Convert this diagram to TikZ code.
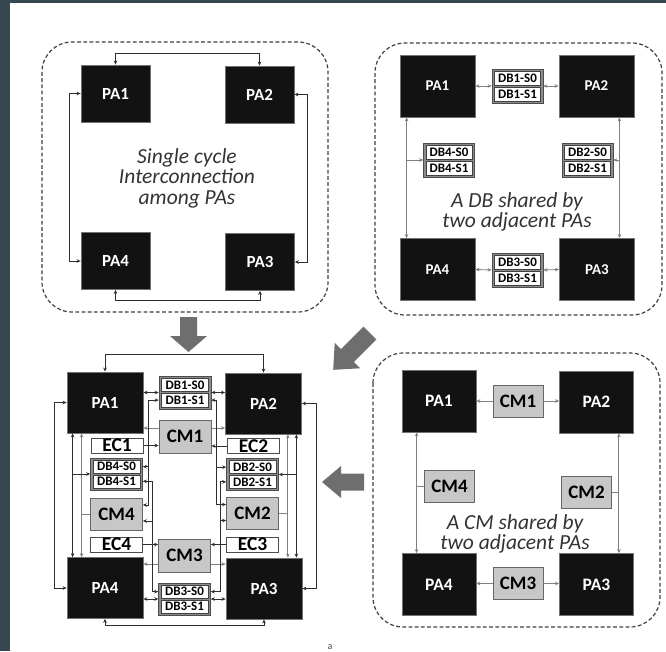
\documentclass[tikz,border=0pt]{standalone}
\usepackage{fontspec}
\setmainfont{Carlito}
\usetikzlibrary{calc,arrows.meta}
\definecolor{frame}{HTML}{37474F}
\definecolor{bigarrow}{HTML}{6E6E6E}
\newcommand{\fsz}[1]{\fontsize{#1}{#1}\selectfont}
\newcommand{\dbnode}[6]{%
  \node[dbouter,minimum width=#4pt,minimum height=#5pt] (#1) at (#2,#3) {};
  \node[dbrow,minimum width=#4pt-5pt,minimum height=#5pt/2-3pt,anchor=south] (#1a) at ($(#1.center)+(0,-0.6)$) {DB#6-S0};
  \node[dbrow,minimum width=#4pt-5pt,minimum height=#5pt/2-3pt,anchor=north] (#1b) at ($(#1.center)+(0,0.6)$) {DB#6-S1};
}
\begin{document}
\begin{tikzpicture}[x=1pt,y=-1pt,
  >={Stealth[length=4pt,width=3.6pt]},
  pabox/.style={fill=black!93,draw=black!55,line width=0.8pt,text=white,font=\bfseries\fsz{17},inner sep=0pt},
  cmbox/.style={fill=black!22,draw=black!60,line width=0.8pt,font=\bfseries\fsz{19},inner sep=0pt},
  ecbox/.style={fill=white,draw=black!70,line width=0.8pt,font=\bfseries\fsz{19.5},inner sep=0pt,minimum width=52pt,minimum height=15pt},
  dbouter/.style={fill=black!45,draw=black!70,line width=0.6pt,inner sep=0pt},
  dbrow/.style={fill=white,draw=black!75,line width=0.5pt,font=\bfseries\fsz{13},inner sep=0pt},
  border/.style={draw=black!75,line width=1.2pt,dash pattern=on 3.8pt off 2.4pt,rounded corners=30pt},
  wdark/.style={draw=black!82,line width=0.85pt},
  wgray/.style={draw=black!50,line width=0.85pt},
  itext/.style={font=\itshape\fontsize{21.5}{20.5}\selectfont,align=center,text=black!80}
]
% background and frame
\fill[white] (0,0) rectangle (666,651);
\fill[frame] (0,0) rectangle (666,3);
\fill[frame] (0,0) rectangle (10,651);
\useasboundingbox (0,0) rectangle (666,651);

% ---------------- Panel 1 (top-left) ----------------
\draw[border] (42,42) rectangle (328,312);
\node[pabox,minimum width=69pt,minimum height=57pt] (aPA1) at (115.5,93.5) {PA1};
\node[pabox,minimum width=69pt,minimum height=57pt] (aPA2) at (259.5,94.5) {PA2};
\node[pabox,minimum width=69pt,minimum height=57pt] (aPA4) at (115.5,261) {PA4};
\node[pabox,minimum width=69pt,minimum height=57pt] (aPA3) at (260,262) {PA3};
\draw[wdark,<->] (aPA1.north) -- ++(0,-11) -| (aPA2.north);
\draw[wdark,<->] (aPA1.west) -- ++(-11,0) |- (aPA4.west);
\draw[wdark,<->] (aPA2.east) -- ++(13,0) |- (aPA3.east);
\draw[wdark,<->] (aPA4.south) -- ++(0,11) -| (aPA3.south);
\node[itext] (aT) at (187,178) {Single cycle\\Interconnection\\among PAs};

% ---------------- Panel 2 (top-right) ----------------
\draw[border] (375,43) rectangle (662,315);
\node[pabox,font=\bfseries\fsz{15},minimum width=75pt,minimum height=62pt] (bPA1) at (437.5,86) {PA1};
\node[pabox,font=\bfseries\fsz{15},minimum width=75pt,minimum height=62pt] (bPA2) at (596.5,86) {PA2};
\node[pabox,font=\bfseries\fsz{15},minimum width=75pt,minimum height=62pt] (bPA4) at (437.5,269.5) {PA4};
\node[pabox,font=\bfseries\fsz{15},minimum width=75pt,minimum height=62pt] (bPA3) at (597,269.5) {PA3};
\dbnode{bDB1}{517.5}{86}{51}{34}{1}
\dbnode{bDB4}{449}{160}{51}{34}{4}
\dbnode{bDB2}{587.5}{160}{51}{34}{2}
\dbnode{bDB3}{517.5}{270}{51}{34}{3}
\draw[wgray,<->] (bPA1.east) -- (bDB1.west);
\draw[wgray,<->] (bDB1.east) -- (bPA2.west);
\draw[wgray,<->] (bPA4.east) -- (bDB3.west);
\draw[wgray,<->] (bDB3.east) -- (bPA3.west);
\coordinate (bL1) at ($(bPA1.south west)+(7,0)$);
\coordinate (bL2) at ($(bPA4.north west)+(7,0)$);
\draw[wgray,<->] (bL1) -- (bL2);
\draw[wgray,->] (bL1 |- bDB4.west) -- (bDB4.west);
\coordinate (bR1) at ($(bPA2.south east)+(-15,0)$);
\coordinate (bR2) at (bR1 |- bPA3.north);
\draw[wgray,<->] (bR1) -- (bR2);
\draw[wgray,->] (bR1 |- bDB2.east) -- (bDB2.east);
\node[itext] (bT) at (517,212) {A DB shared by\\two adjacent PAs};

% ---------------- Panel 3 (bottom-right) ----------------
\draw[border] (373,353) rectangle (660,627);
\node[pabox,font=\bfseries\fsz{17.5},minimum width=74pt,minimum height=62pt] (cPA1) at (439,401) {PA1};
\node[pabox,font=\bfseries\fsz{17.5},minimum width=74pt,minimum height=62pt] (cPA2) at (596.5,402) {PA2};
\node[pabox,font=\bfseries\fsz{17.5},minimum width=74pt,minimum height=62pt] (cPA4) at (439,584.5) {PA4};
\node[pabox,font=\bfseries\fsz{17.5},minimum width=74pt,minimum height=62pt] (cPA3) at (596.5,584.5) {PA3};
\node[cmbox,minimum width=50pt,minimum height=32pt] (cCM1) at (518,401) {CM1};
\node[cmbox,minimum width=50pt,minimum height=32pt] (cCM4) at (449.5,486) {CM4};
\node[cmbox,minimum width=50pt,minimum height=32pt] (cCM2) at (586.5,492.5) {CM2};
\node[cmbox,minimum width=50pt,minimum height=32pt] (cCM3) at (518,583.5) {CM3};
\draw[wgray,->] (cCM1.west) -- (cCM1.west -| cPA1.east);
\draw[wgray,->] (cCM1.east) -- (cCM1.east -| cPA2.west);
\draw[wgray,->] (cCM3.west) -- (cCM3.west -| cPA4.east);
\draw[wgray,->] (cCM3.east) -- (cCM3.east -| cPA3.west);
\coordinate (cL1) at ($(cPA1.south west)+(15,0)$);
\coordinate (cL2) at (cL1 |- cPA4.north);
\draw[wgray,<->] (cL1) -- (cL2);
\draw[wgray] (cL1 |- cCM4.west) -- (cCM4.west);
\coordinate (cR1) at ($(cPA2.south east)+(-15,0)$);
\coordinate (cR2) at (cR1 |- cPA3.north);
\draw[wgray,<->] (cR1) -- (cR2);
\draw[wgray] (cR1 |- cCM2.east) -- (cCM2.east);
\node[itext] (cT) at (515,534) {A CM shared by\\two adjacent PAs};

% ---------------- Panel 4 (bottom-left) ----------------
\node[pabox,minimum width=76pt,minimum height=61pt] (dPA1) at (105,402.5) {PA1};
\node[pabox,minimum width=76pt,minimum height=61pt] (dPA2) at (263.5,403.5) {PA2};
\node[pabox,minimum width=76pt,minimum height=61pt] (dPA4) at (105,588) {PA4};
\node[pabox,minimum width=76pt,minimum height=61pt] (dPA3) at (264,588.5) {PA3};
\dbnode{dDB1}{185}{392.5}{52}{33}{1}
\node[cmbox,minimum width=52pt,minimum height=33pt] (dCM1) at (185,436.5) {CM1};
\node[ecbox] (dEC1) at (117,445.5) {EC1};
\node[ecbox] (dEC2) at (253.5,446) {EC2};
\dbnode{dDB4}{116.5}{474}{52}{32}{4}
\dbnode{dDB2}{252.5}{474.5}{52}{32}{2}
\node[cmbox,minimum width=52pt,minimum height=32pt] (dCM4) at (116.5,514) {CM4};
\node[cmbox,minimum width=52pt,minimum height=32pt] (dCM2) at (252.5,513.5) {CM2};
\node[ecbox] (dEC4) at (116.5,544.5) {EC4};
\node[ecbox] (dEC3) at (252.5,544.5) {EC3};
\node[cmbox,minimum width=52pt,minimum height=33pt] (dCM3) at (184.5,555.5) {CM3};
\dbnode{dDB3}{184.5}{599}{52}{32}{3}
% outer loop
\draw[wdark,<->] (dPA1.north) -- ++(0,-17) -| (dPA2.north);
\draw[wdark,<->] (dPA1.west) -- ++(-12,0) |- (dPA4.west);
\draw[wdark,<->] (dPA2.east) -- ++(15,0) |- (dPA3.east);
\draw[wdark,<->] (dPA4.south) -- ++(0,6.5) -| (dPA3.south);
% side buses
\coordinate (dLa1) at ($(dPA1.south west)+(6,0)$);
\coordinate (dLa2) at (dLa1 |- dPA4.north);
\coordinate (dLb1) at ($(dPA1.south west)+(15,0)$);
\coordinate (dLb2) at (dLb1 |- dPA4.north);
\draw[wdark,<->] (dLa1) -- (dLa2);
\draw[wgray,<->] (dLb1) -- (dLb2);
\draw[wdark,->] (dLa1 |- dDB4.west) -- (dDB4.west);
\draw[wgray] (dLb1 |- dCM4.west) -- (dCM4.west);
\coordinate (dRa1) at ($(dPA2.south east)+(-14,0)$);
\coordinate (dRa2) at (dRa1 |- dPA3.north);
\coordinate (dRb1) at ($(dPA2.south east)+(-5.5,0)$);
\coordinate (dRb2) at (dRb1 |- dPA3.north);
\draw[wgray,<->] (dRa1) -- (dRa2);
\draw[wdark,<->] (dRb1) -- (dRb2);
\draw[wdark,->] (dRb1 |- dDB2.east) -- (dDB2.east);
\draw[wgray] (dRa1 |- dCM2.east) -- (dCM2.east);
% PA - DB links
\draw[wdark,<->] (dDB1.west -| dPA1.east) -- (dDB1.west);
\draw[wdark,<->] (dDB1.east) -- (dDB1.east -| dPA2.west);
\draw[wdark,<->] (dDB3.west -| dPA4.east) -- (dDB3.west);
\draw[wdark,<->] (dDB3.east) -- (dDB3.east -| dPA3.west);
% CM - PA links
\coordinate (dc1l) at ($(dCM1.west)+(0,-8.5)$);
\coordinate (dc1r) at ($(dCM1.east)+(0,-8.5)$);
\coordinate (dc3l) at ($(dCM3.west)+(0,8.5)$);
\coordinate (dc3r) at ($(dCM3.east)+(0,8.5)$);
\draw[wgray,->] (dc1l) -- (dc1l -| dPA1.east);
\draw[wgray,->] (dc1r) -- (dc1r -| dPA2.west);
\draw[wgray,->] (dc3l) -- (dc3l -| dPA4.east);
\draw[wgray,->] (dc3r) -- (dc3r -| dPA3.west);
% EC - CM links
\draw[wdark,->] (dEC1.east) -- (dEC1.east -| dCM1.west);
\draw[wdark,->] (dEC2.west) -- (dEC2.west -| dCM1.east);
\draw[wdark,->] (dEC4.east) -- (dEC4.east -| dCM3.west);
\draw[wdark,->] (dEC3.west) -- (dEC3.west -| dCM3.east);
% inner channel wires
\coordinate (dX1) at (148,0);
\coordinate (dX2) at (152.5,0);
\coordinate (dX3) at (216,0);
\coordinate (dX4) at (220.5,0);
\coordinate (dCM4a) at ($(dCM4.east)+(0,-9)$);
\coordinate (dCM4b) at ($(dCM4.east)+(0,7)$);
\coordinate (dCM2a) at ($(dCM2.west)+(0,-9)$);
\coordinate (dCM2b) at ($(dCM2.west)+(0,7)$);
\draw[wdark,<->] (dDB1b -| dDB1.west) -- (dDB1b -| dX1) -- (dX1 |- dCM4a) -- (dCM4a);
\draw[wdark,->] (dX1 |- dDB4a) -- (dDB4a -| dDB4.east);
\draw[wdark,<->] (dDB4b -| dDB4.east) -- (dDB4b -| dX2) -- (dX2 |- dDB3a) -- (dDB3a -| dDB3.west);
\draw[wdark,->] (dX2 |- dCM4b) -- (dCM4b);
\draw[wdark,<->] (dDB1b -| dDB1.east) -- (dDB1b -| dX3) -- (dX3 |- dCM2a) -- (dCM2a);
\draw[wdark,->] (dX3 |- dDB2a) -- (dDB2a -| dDB2.west);
\draw[wdark,<->] (dDB2b -| dDB2.west) -- (dDB2b -| dX4) -- (dX4 |- dDB3a) -- (dDB3a -| dDB3.east);
\draw[wdark,->] (dX4 |- dCM2b) -- (dCM2b);

% ---------------- big arrows ----------------
\fill[bigarrow] (180,317) -- (197,317) -- (197,336) -- (207,336) -- (188.5,352) -- (170,336) -- (180,336) -- cycle;
\fill[bigarrow] (376.4,339.4) -- (353.8,362.0) -- (360.1,368.3) -- (333.2,369.8) -- (334.7,342.9) -- (341.0,349.2) -- (363.6,326.6) -- cycle;
\fill[bigarrow] (364,473.5) -- (341,473.5) -- (341,466) -- (322,482) -- (341,498) -- (341,490.5) -- (364,490.5) -- cycle;

\node[font=\fsz{10},text=black!70,anchor=south,inner sep=0.5pt] (capA) at (330,650) {a};
\end{tikzpicture}
\end{document}
